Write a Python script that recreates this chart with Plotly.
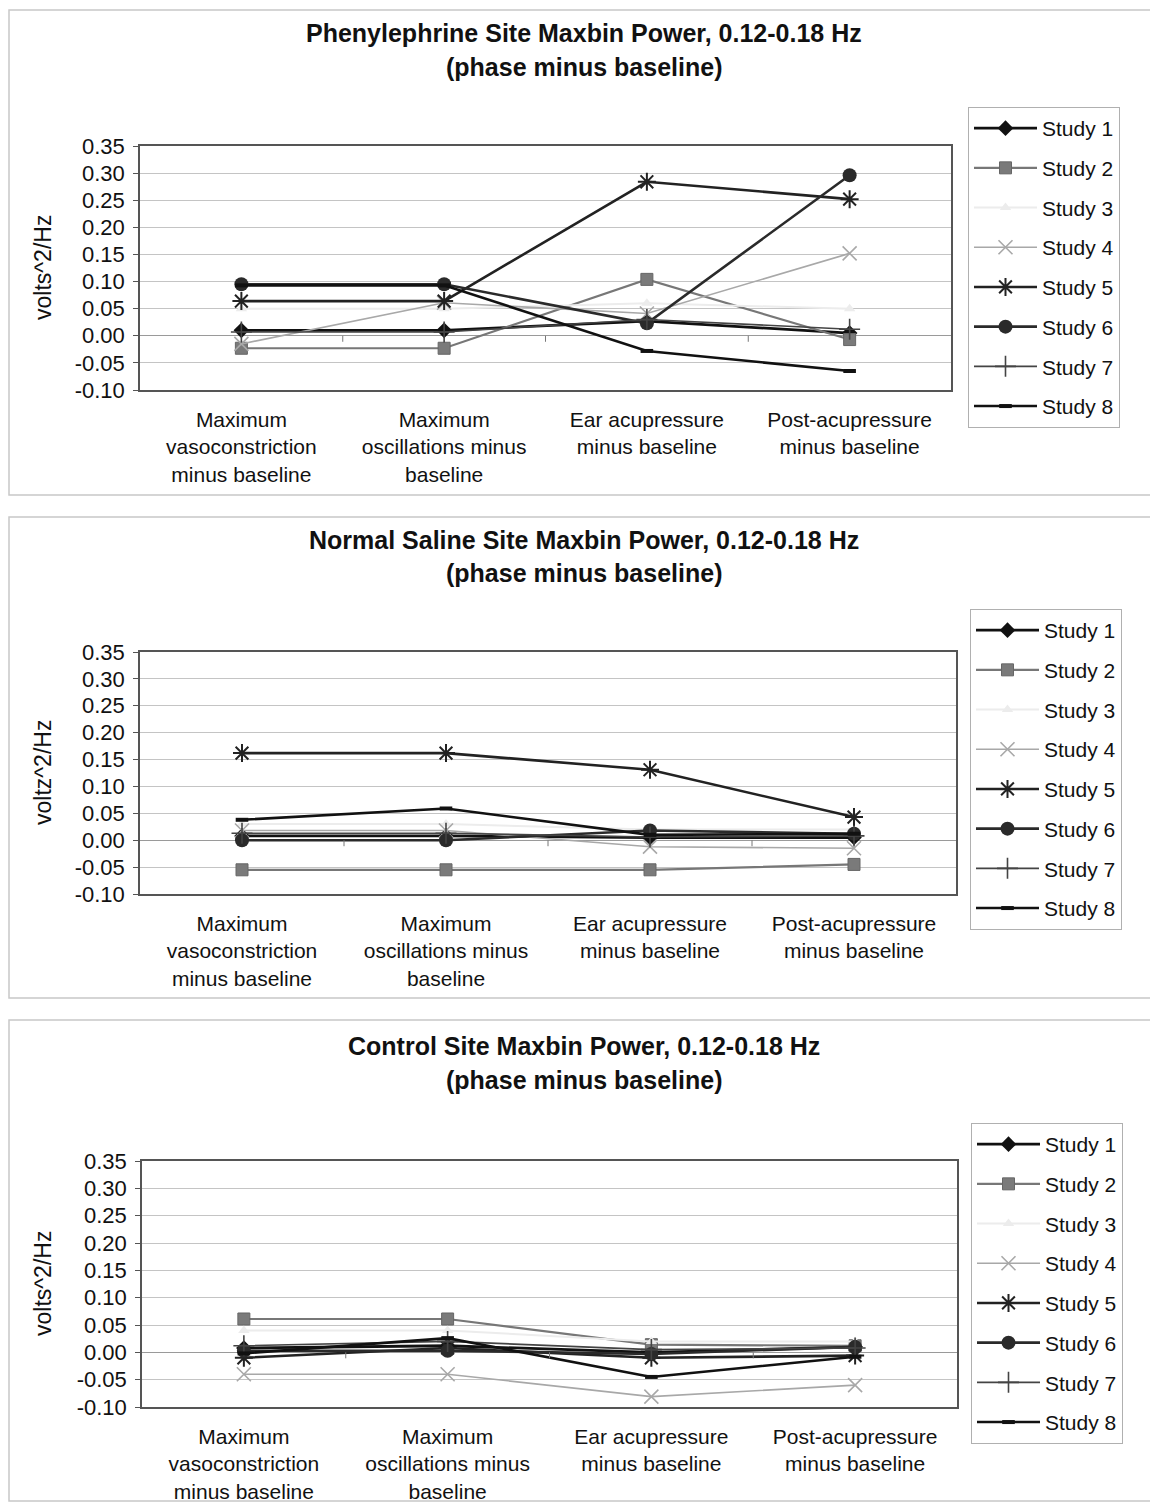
import plotly.graph_objects as go

W, H = 1150, 1503

# ---------------- data ----------------
categories = [
    "Maximum<br>vasoconstriction<br>minus baseline",
    "Maximum<br>oscillations minus<br>baseline",
    "Ear acupressure<br>minus baseline",
    "Post-acupressure<br>minus baseline",
]
study_names = ["Study 1", "Study 2", "Study 3", "Study 4",
               "Study 5", "Study 6", "Study 7", "Study 8"]
y_ticks = [-0.10, -0.05, 0.00, 0.05, 0.10, 0.15, 0.20, 0.25, 0.30, 0.35]
y_tick_labels = ["-0.10", "-0.05", "0.00", "0.05", "0.10",
                 "0.15", "0.20", "0.25", "0.30", "0.35"]

# Phenylephrine site
pe_study1 = [0.010, 0.010, 0.027, 0.005]
pe_study2 = [-0.023, -0.023, 0.104, -0.007]
pe_study3 = [0.050, 0.050, 0.060, 0.050]
pe_study4 = [-0.015, 0.061, 0.041, 0.152]
pe_study5 = [0.064, 0.064, 0.284, 0.252]
pe_study6 = [0.095, 0.095, 0.023, 0.296]
pe_study7 = [0.007, 0.007, 0.030, 0.012]
pe_study8 = [0.093, 0.093, -0.028, -0.065]

# Normal saline site
ns_study1 = [0.008, 0.008, 0.005, 0.005]
ns_study2 = [-0.055, -0.055, -0.055, -0.045]
ns_study3 = [0.030, 0.030, 0.020, 0.020]
ns_study4 = [0.018, 0.018, -0.012, -0.015]
ns_study5 = [0.162, 0.162, 0.131, 0.043]
ns_study6 = [0.000, 0.000, 0.018, 0.012]
ns_study7 = [0.013, 0.013, 0.006, 0.008]
ns_study8 = [0.038, 0.059, 0.010, 0.012]

# Control site
ct_study1 = [0.008, 0.012, 0.000, 0.010]
ct_study2 = [0.061, 0.061, 0.014, 0.012]
ct_study3 = [0.040, 0.040, 0.020, 0.020]
ct_study4 = [-0.040, -0.040, -0.081, -0.060]
ct_study5 = [-0.010, 0.008, -0.010, -0.006]
ct_study6 = [0.003, 0.003, -0.003, 0.010]
ct_study7 = [0.012, 0.020, 0.005, 0.008]
ct_study8 = [-0.002, 0.026, -0.045, -0.008]

titles = [
    ("Phenylephrine Site Maxbin Power, 0.12-0.18 Hz", "(phase minus baseline)"),
    ("Normal Saline Site Maxbin Power, 0.12-0.18 Hz", "(phase minus baseline)"),
    ("Control Site Maxbin Power, 0.12-0.18 Hz", "(phase minus baseline)"),
]
y_titles = ["volts^2/Hz", "voltz^2/Hz", "volts^2/Hz"]

panels = [
    [pe_study1, pe_study2, pe_study3, pe_study4, pe_study5, pe_study6, pe_study7, pe_study8],
    [ns_study1, ns_study2, ns_study3, ns_study4, ns_study5, ns_study6, ns_study7, ns_study8],
    [ct_study1, ct_study2, ct_study3, ct_study4, ct_study5, ct_study6, ct_study7, ct_study8],
]

# ---------------- styles ----------------
styles = [
    dict(line=dict(color="#111111", width=2.8), marker=dict(symbol="diamond", size=12, color="#111111")),
    dict(line=dict(color="#777777", width=2.2), marker=dict(symbol="square", size=12, color="#7a7a7a", line=dict(color="#666666", width=1))),
    dict(line=dict(color="#ececec", width=2), marker=dict(symbol="triangle-up", size=10, color="#ececec")),
    dict(line=dict(color="#a8a8a8", width=1.6), marker=dict(symbol="x-thin-open", size=14, line=dict(color="#a8a8a8", width=1.6))),
    dict(line=dict(color="#222222", width=2.6), marker=dict(symbol="asterisk-open", size=15, line=dict(color="#222222", width=2))),
    dict(line=dict(color="#2a2a2a", width=2.6), marker=dict(symbol="circle", size=14, color="#2a2a2a")),
    dict(line=dict(color="#444444", width=1.6), marker=dict(symbol="cross-thin-open", size=15, line=dict(color="#444444", width=1.6))),
    dict(line=dict(color="#111111", width=2.6), marker=dict(symbol="line-ew-open", size=9, line=dict(color="#111111", width=4))),
]

# ---------------- layout geometry (pixels) ----------------
plot_boxes = [  # left, right, top, bottom
    (140, 951, 146, 390),
    (140, 956, 652, 894),
    (142, 957, 1161, 1407),
]
legend_pos = [(968, 107), (970, 609), (971, 1123)]
title_lines = [(33, 67), (540, 573), (1046, 1080)]
frames = [(10, 495), (517, 998), (1020, 1501)]

FONT = "Liberation Sans, Arial, sans-serif"

fig = go.Figure()
annotations = []
shapes = []

for p, series in enumerate(panels):
    ax_suffix = "" if p == 0 else str(p + 1)
    xref = "x" + ax_suffix
    yref = "y" + ax_suffix
    legend_name = "legend" + ax_suffix
    for s, (vals, name) in enumerate(zip(series, study_names)):
        st = styles[s]
        fig.add_trace(go.Scatter(
            x=categories, y=vals, name=name, mode="lines+markers",
            line=st["line"], marker=st["marker"],
            xaxis=xref, yaxis=yref, legend=legend_name,
            legendgroup=f"p{p}s{s}", showlegend=True,
        ))

    l, r, t, b = plot_boxes[p]
    fig.layout["xaxis" + ax_suffix] = dict(
        domain=[l / W, r / W], anchor=yref, type="category",
        categoryorder="array", categoryarray=categories,
        range=[-0.5, 3.5], showgrid=False, zeroline=False,
        showline=True, mirror=True, linecolor="#555555", linewidth=1.5,
        ticks="", tickfont=dict(size=21, color="#111111", family=FONT),
        ticklabelstandoff=10, automargin=False,
    )
    fig.layout["yaxis" + ax_suffix] = dict(
        domain=[1 - b / H, 1 - t / H], anchor=xref,
        range=[-0.10, 0.35], tickmode="array", tickvals=y_ticks, ticktext=y_tick_labels,
        showgrid=True, gridcolor="#c4c4c4", gridwidth=1,
        zeroline=True, zerolinecolor="#9a9a9a", zerolinewidth=1,
        showline=True, mirror=True, linecolor="#555555", linewidth=1.5,
        ticks="outside", ticklen=5, tickcolor="#555555",
        tickfont=dict(size=22, color="#111111", family=FONT),
        ticklabelstandoff=4, automargin=False,
    )
    # category boundary tick marks on the zero line
    for bnd in (0.5, 1.5, 2.5):
        shapes.append(dict(type="line", xref=xref, yref=yref,
                           x0=bnd, x1=bnd, ysizemode="pixel", yanchor=0,
                           y0=0, y1=-6, line=dict(color="#777777", width=1)))
    # legend
    lx, ly = legend_pos[p]
    fig.layout[legend_name] = dict(
        x=lx / W, y=1 - ly / H, xanchor="left", yanchor="top",
        bordercolor="#b0b0b0", borderwidth=1, bgcolor="white",
        font=dict(size=21, color="#111111", family=FONT),
        tracegroupgap=9.4, itemwidth=63, traceorder="grouped",
    )
    # titles
    y1, y2 = title_lines[p]
    for txt, yy in zip(titles[p], (y1, y2)):
        annotations.append(dict(
            text="<b>" + txt + "</b>", x=584 / W, y=1 - yy / H,
            xref="paper", yref="paper", xanchor="center", yanchor="middle",
            showarrow=False, font=dict(size=25, color="#111111", family=FONT)))
    # y axis title
    annotations.append(dict(
        text=y_titles[p], x=43 / W, y=1 - ((t + b) / 2) / H,
        xref="paper", yref="paper", xanchor="center", yanchor="middle",
        textangle=-90, showarrow=False,
        font=dict(size=23, color="#111111", family=FONT)))
    # outer frame of each chart
    ft, fb = frames[p]
    shapes.append(dict(type="rect", xref="paper", yref="paper",
                       x0=9 / W, x1=1.02, y0=1 - fb / H, y1=1 - ft / H,
                       line=dict(color="#c8c8c8", width=1.5), layer="below"))

fig.update_layout(
    width=W, height=H, margin=dict(l=0, r=0, t=0, b=0, autoexpand=False),
    paper_bgcolor="white", plot_bgcolor="white",
    font=dict(family=FONT, color="#111111"),
    annotations=annotations, shapes=shapes,
)

fig.write_html("out.html", config={"displayModeBar": False},
               post_script="document.body.style.margin='0';")
